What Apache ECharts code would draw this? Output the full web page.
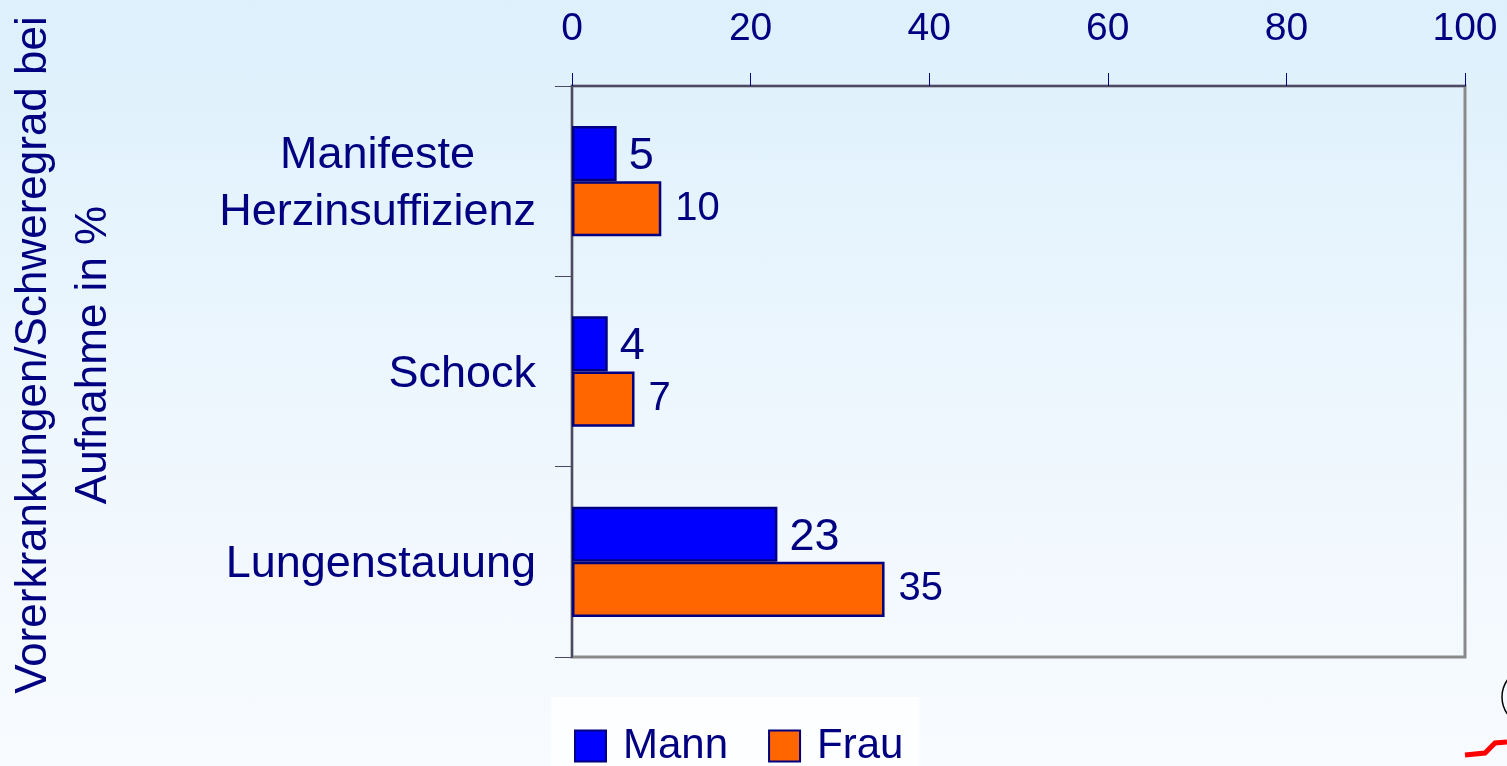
<!DOCTYPE html>
<html>
<head>
<meta charset="utf-8">
<script src="https://cdn.jsdelivr.net/npm/echarts@6/dist/echarts.min.js"></script>
<style>
  html, body { margin: 0; padding: 0; width: 1507px; height: 766px; overflow: hidden;
    background: linear-gradient(to bottom, #ddf0fc 0%, #eef7fe 55%, #f8fbff 100%); }
  #chart { width: 1507px; height: 766px; }
</style>
</head>
<body>
<div id="chart"></div>
<script>
const categories = ['Manifeste\nHerzinsuffizienz', 'Schock', 'Lungenstauung'];
const seriesNames = ['Mann', 'Frau'];
const mann = [5, 4, 23];
const frau = [10, 7, 35];
const axisTitle = 'Vorerkrankungen/Schweregrad bei\nAufnahme in %';

const NAVY = '#000080';
const FONT = 'Liberation Sans, Arial, Helvetica, sans-serif';

const chart = echarts.init(document.getElementById('chart'), null, { renderer: 'canvas' });
chart.setOption({
  backgroundColor: 'transparent',
  animation: false,
  textStyle: { fontFamily: FONT },
  grid: {
    left: 572, right: 42, top: 86, bottom: 109,
    show: true, borderColor: '#8a8a8a', borderWidth: 3, backgroundColor: 'transparent'
  },
  xAxis: {
    type: 'value', position: 'top', min: 0, max: 100, interval: 20,
    axisLine: { show: true, lineStyle: { color: '#4a4a66', width: 2 } },
    axisTick: { show: true, inside: false, length: 13, lineStyle: { color: NAVY, width: 1 } },
    axisLabel: { color: NAVY, fontSize: 39, fontFamily: FONT, margin: 37 },
    splitLine: { show: false }
  },
  yAxis: {
    type: 'category', data: categories, inverse: true,
    axisLine: { show: true, lineStyle: { color: '#4a4a66', width: 2 } },
    axisTick: { show: true, inside: false, length: 17, lineStyle: { color: '#4a4a66', width: 1 } },
    axisLabel: {
      margin: 36,
      formatter: function (v) { return v.split('\n').map(function (s) { return '{c|' + s + '}'; }).join('\n'); },
      rich: { c: { align: 'center', color: NAVY, fontSize: 45, fontFamily: FONT, lineHeight: 57, padding: [6, 0, 0, 0] } }
    }
  },
  legend: {
    data: seriesNames,
    left: 551, top: 697,
    orient: 'horizontal',
    backgroundColor: '#fdfeff',
    padding: [28, 16, 30, 23],
    itemWidth: 31, itemHeight: 31, itemGap: 40,
    icon: 'rect',
    textStyle: { color: NAVY, fontSize: 42, fontFamily: FONT, padding: [0, 0, 0, 12] }
  },
  series: [
    {
      name: seriesNames[0], type: 'bar', data: mann,
      barGap: '0%', barCategoryGap: '42%',
      itemStyle: { color: '#0000ff', borderColor: NAVY, borderWidth: 2.5 },
      label: { show: true, position: 'right', distance: 12, offset: [0, 3], color: NAVY, fontSize: 45, fontFamily: FONT }
    },
    {
      name: seriesNames[1], type: 'bar', data: frau,
      barGap: '0%', barCategoryGap: '42%',
      itemStyle: { color: '#ff6600', borderColor: NAVY, borderWidth: 2.5 },
      label: { show: true, position: 'right', distance: 14, color: NAVY, fontSize: 40, fontFamily: FONT }
    }
  ],
  graphic: [
    {
      type: 'text', x: 64, y: 355, rotation: Math.PI / 2,
      style: { text: axisTitle, fill: NAVY, font: '44px ' + FONT, align: 'center', verticalAlign: 'middle', lineHeight: 60 }
    },
    {
      type: 'circle', shape: { cx: 1531, cy: 697, r: 29 },
      style: { fill: 'none', stroke: '#000', lineWidth: 1.5 }
    },
    {
      type: 'polyline', shape: { points: [[1465, 755], [1485, 753], [1495, 743], [1507, 742]] },
      style: { stroke: '#ff0000', lineWidth: 5, fill: 'none' }
    }
  ]
});
</script>
</body>
</html>
